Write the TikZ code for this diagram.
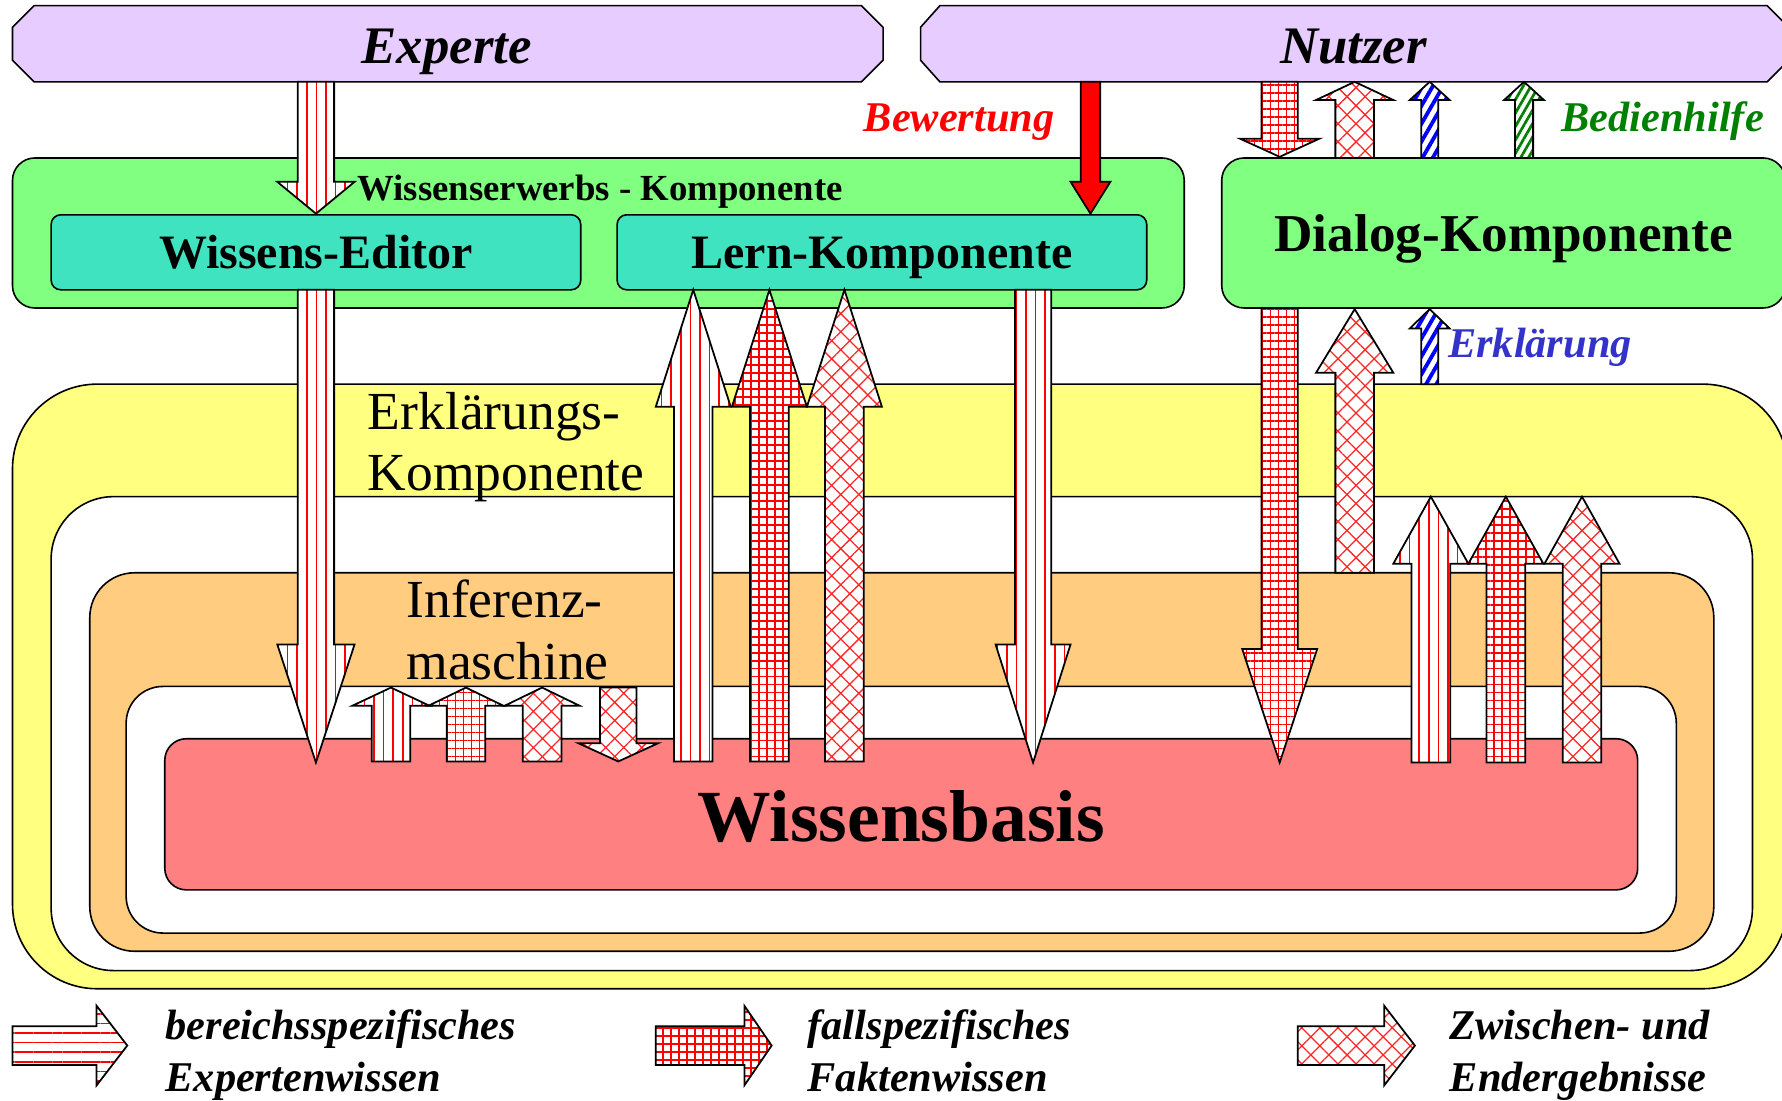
\documentclass[tikz,border=0pt]{standalone}
\usepackage{fontspec}
\setmainfont{Liberation Serif}
\usepackage{tikz}
\usetikzlibrary{patterns.meta}
\definecolor{xsviolet}{HTML}{E6CCFF}
\definecolor{xsgreen}{HTML}{80FF80}
\definecolor{xsteal}{HTML}{40E3C0}
\definecolor{xsyellow}{HTML}{FFFF80}
\definecolor{xsorange}{HTML}{FFCC80}
\definecolor{xspink}{HTML}{FF8080}
\definecolor{xsblue}{HTML}{3333CC}
\definecolor{xsdkgreen}{HTML}{008000}
% block arrow, vertical: style, x, y tail, y head base, y tip, shaft half width, head half width
\newcommand{\varrow}[7]{\draw[#1] (#2-#6,#3) -- (#2-#6,#4) -- (#2-#7,#4) -- (#2,#5)
   -- (#2+#7,#4) -- (#2+#6,#4) -- (#2+#6,#3) -- cycle;}
% block arrow, horizontal: style, y, x tail, x head base, x tip, shaft half width, head half width
\newcommand{\harrow}[7]{\draw[#1] (#3,#2-#6) -- (#4,#2-#6) -- (#4,#2-#7) -- (#5,#2)
   -- (#4,#2+#7) -- (#4,#2+#6) -- (#3,#2+#6) -- cycle;}

\begin{document}
\begin{tikzpicture}[x=0.025cm,y=-0.025cm,line width=1pt,
   box/.style={draw=black,line width=1pt},
   blk/.style={draw=black,line width=1.1pt,line join=miter},
   stripes/.style={blk,preaction={fill=white},pattern={Lines[angle=90,distance=6pt,line width=1pt]},pattern color=red},
   hstripes/.style={blk,preaction={fill=white},pattern={Lines[angle=0,distance=6pt,line width=1pt]},pattern color=red},
   grid/.style={blk,preaction={fill=white},pattern={Hatch[angle=0,distance=5pt,line width=1.1pt]},pattern color=red},
   xhatch/.style={blk,preaction={fill=white},pattern={Hatch[angle=45,distance=8pt,line width=0.8pt]},pattern color=red!85},
   bluestripes/.style={blk,preaction={fill=white},pattern={Lines[angle=60,distance=5.6pt,line width=2.4pt]},pattern color=blue},
   greenstripes/.style={blk,preaction={fill=white},pattern={Lines[angle=60,distance=4.2pt,line width=1.7pt]},pattern color=xsdkgreen},
   bewarrow/.style={blk,fill=red},
   actor/.style={font=\fontsize{33}{40}\selectfont\bfseries\itshape,anchor=base},
   comp/.style={font=\fontsize{30}{36}\selectfont\bfseries,anchor=base},
   layer/.style={font=\fontsize{33.5}{40}\selectfont,anchor=base west,inner sep=0pt},
   flow/.style={font=\fontsize{26.5}{32}\selectfont\bfseries\itshape,anchor=base},
   legend/.style={font=\fontsize{26.5}{32}\selectfont\bfseries\itshape,anchor=base west,inner sep=0pt}]
\useasboundingbox (0,0) rectangle (1568,968);
\clip (0,0) rectangle (1568,968);

% actors
\draw[box,fill=xsviolet] (30,5) -- (758,5) -- (777,24) -- (777,53) -- (758,72) -- (30,72) -- (11,53) -- (11,24) -- cycle;
\node[actor] (experte) at (393,56) {Experte};
\draw[box,fill=xsviolet] (827,5) -- (1555,5) -- (1574,24) -- (1574,53) -- (1555,72) -- (827,72) -- (810,53) -- (810,24) -- cycle;
\node[actor] (nutzer) at (1191,56) {Nutzer};

% Wissenserwerbs- und Dialog-Komponente
\draw[box,fill=xsgreen,rounded corners=14pt] (11,139) rectangle (1042,271);
\node[font=\fontsize{23}{28}\selectfont\bfseries,anchor=base] (wissenerw) at (528,176) {Wissenserwerbs - Komponente};
\draw[box,fill=xsteal,rounded corners=6pt] (45,189) rectangle (511,255);
\node[comp] (editor) at (278,236) {Wissens-Editor};
\draw[box,fill=xsteal,rounded corners=6pt] (543,189) rectangle (1009,255);
\node[comp] (lern) at (776,236) {Lern-Komponente};
\draw[box,fill=xsgreen,rounded corners=14pt] (1075,139) rectangle (1571,271);
\node[font=\fontsize{33.3}{40}\selectfont\bfseries,anchor=base] (dialog) at (1323,221) {Dialog-Komponente};

% nested layers
\draw[box,fill=xsyellow,rounded corners=53pt] (11,338) rectangle (1573,870);
\draw[box,fill=white,rounded corners=39pt] (45,437) rectangle (1542,854);
\draw[box,fill=xsorange,rounded corners=28pt] (79,504) rectangle (1508,837);
\draw[box,fill=white,rounded corners=23pt] (111,604) rectangle (1475,821);
\draw[box,fill=xspink,rounded corners=13.5pt] (145,650) rectangle (1441,783);
\node[layer] (erkl) at (323,378) {Erklärungs-};
\node[layer] (erklb) at (323,432) {Komponente};
\node[layer] (inferenz) at (357,543) {Inferenz-};
\node[layer] (inferenzb) at (357,598) {maschine};
\node[font=\fontsize{46}{54}\selectfont\bfseries,anchor=base] (basis) at (793,740) {Wissensbasis};

% Experte -> Wissens-Editor -> Wissensbasis
\varrow{stripes}{278}{72}{160}{188}{16}{34}
\varrow{stripes}{278}{255}{567}{671}{16}{34}
% Wissensbasis -> Lern-Komponente -> Wissensbasis
\varrow{stripes}{610}{670}{358}{255}{17}{33}
\varrow{grid}{677}{670}{358}{255}{17}{33}
\varrow{xhatch}{743}{670}{358}{255}{17}{33}
\varrow{stripes}{909}{255}{567}{671}{16}{33}
% Bewertung
\varrow{bewarrow}{959.5}{72}{160}{188}{8.5}{17.5}
% Nutzer <-> Dialog-Komponente
\varrow{grid}{1126}{72}{122}{138}{16}{35}
\varrow{xhatch}{1192}{139}{88}{72}{17}{34}
\varrow{bluestripes}{1258}{139}{88}{72}{7.5}{17.5}
\varrow{greenstripes}{1341}{139}{88}{72}{8}{17.5}
% Dialog-Komponente -> Wissensbasis
\varrow{grid}{1126}{271}{571}{671}{16}{33}
% Erklaerungs-Komponente -> Dialog-Komponente
\varrow{xhatch}{1192}{504}{328}{272}{17}{34}
\varrow{bluestripes}{1258}{338}{289}{272}{7.5}{17.5}
% Wissensbasis -> Erklaerungs-Komponente
\varrow{stripes}{1259}{671}{496}{437}{17}{33}
\varrow{grid}{1325}{671}{496}{437}{17}{33}
\varrow{xhatch}{1392}{671}{496}{437}{17}{33}
% Inferenzmaschine <-> Wissensbasis
\varrow{stripes}{344}{670}{621}{605}{17}{34}
\varrow{grid}{410}{670}{621}{605}{17}{33}
\varrow{xhatch}{477}{670}{621}{605}{17}{33}
\varrow{xhatch}{544}{605}{654}{670}{16}{35}

% flow labels
\node[flow,text=red] (bewertung) at (844,116) {Bewertung};
\node[flow,text=xsdkgreen] (bedienhilfe) at (1463,116) {Bedienhilfe};
\node[flow,text=xsblue] (erklaerung) at (1355,315) {Erklärung};

% legend
\harrow{hstripes}{920}{11}{85}{112}{17}{35}
\node[legend] (leg1) at (145,915) {bereichsspezifisches};
\node[legend] (leg1b) at (145,960) {Expertenwissen};
\harrow{grid}{920}{577}{655}{679}{17}{35}
\node[legend] (leg2) at (710,915) {fallspezifisches};
\node[legend] (leg2b) at (710,960) {Faktenwissen};
\harrow{xhatch}{920}{1142}{1218}{1245}{17}{35}
\node[legend] (leg3) at (1275,915) {Zwischen- und};
\node[legend] (leg3b) at (1275,960) {Endergebnisse};
\end{tikzpicture}
\end{document}
